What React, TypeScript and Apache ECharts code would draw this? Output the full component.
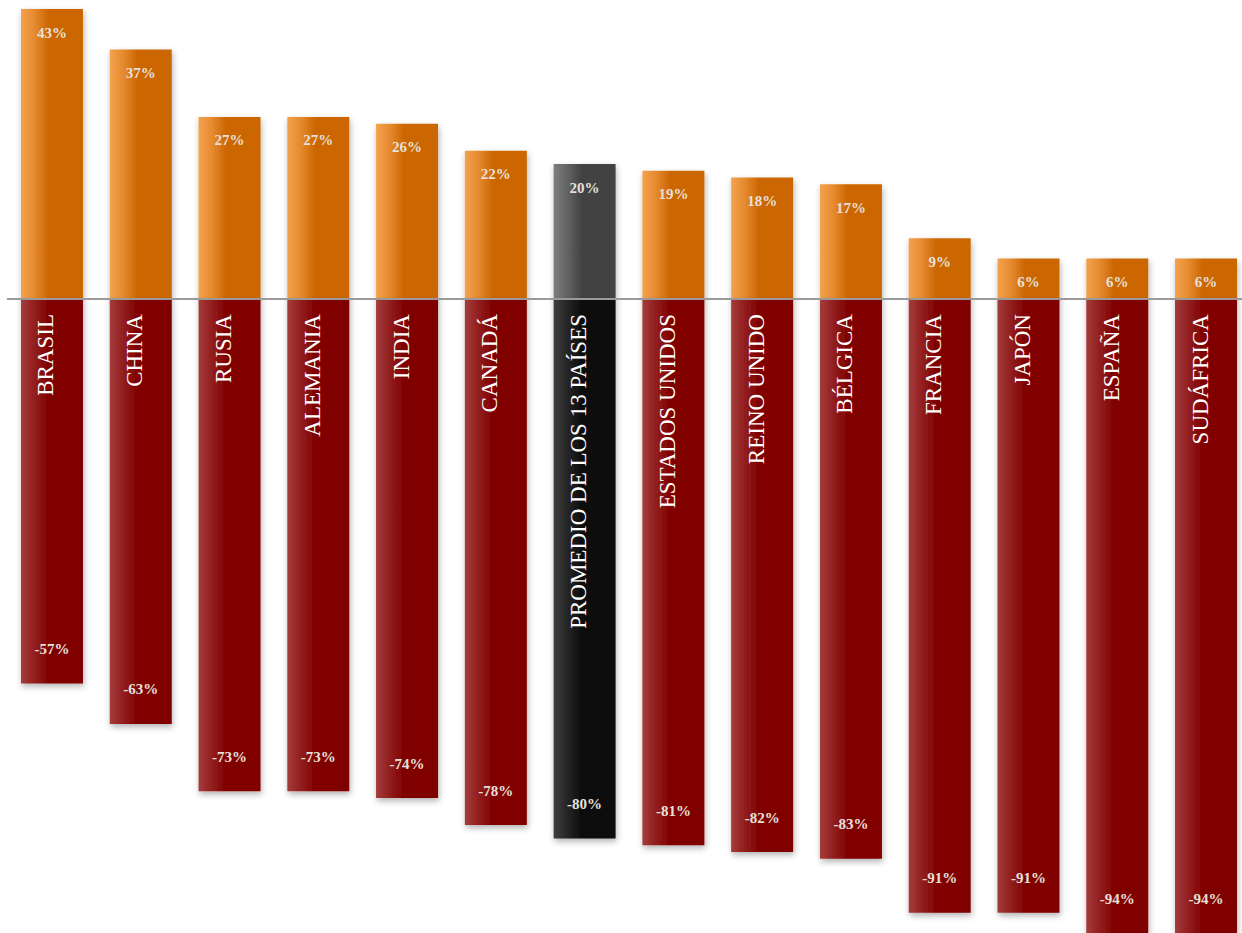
import React, { useEffect, useRef } from "react";
import * as echarts from "echarts";

const categories = [
  "BRASIL",
  "CHINA",
  "RUSIA",
  "ALEMANIA",
  "INDIA",
  "CANADÁ",
  "PROMEDIO DE LOS 13 PAÍSES",
  "ESTADOS UNIDOS",
  "REINO UNIDO",
  "BÉLGICA",
  "FRANCIA",
  "JAPÓN",
  "ESPAÑA",
  "SUDÁFRICA",
];
const positiveValues = [43, 37, 27, 27, 26, 22, 20, 19, 18, 17, 9, 6, 6, 6];
const negativeValues = [-57, -63, -73, -73, -74, -78, -80, -81, -82, -83, -91, -91, -94, -94];
const highlightIndex = 6;

const grad = (a: string, m: string, b: string) =>
  new echarts.graphic.LinearGradient(0, 0, 1, 0, [
    { offset: 0, color: a },
    { offset: 0.22, color: m },
    { offset: 0.45, color: b },
    { offset: 1, color: b },
  ]);

export default function App() {
  const ref = useRef<HTMLDivElement>(null);
  useEffect(() => {
    if (!ref.current) return;
    const chart = echarts.init(ref.current, undefined, { renderer: "svg" });
    const shadow = {
      shadowBlur: 6,
      shadowOffsetX: 1,
      shadowOffsetY: 3,
      shadowColor: "rgba(0,0,0,0.3)",
    };
    const valueLabel = {
      show: true,
      fontFamily: "Liberation Serif",
      fontWeight: "bold" as const,
      fontSize: 15,
      color: "#e6e0da",
      formatter: (p: any) => `${p.value}%`,
    };
    chart.setOption({
      animation: false,
      grid: {
        left: 7.6,
        width: 1242.8,
        top: 9,
        bottom: 0,
        containLabel: false,
        outerBoundsMode: "none",
      },
      xAxis: {
        type: "category",
        data: categories,
        z: 10,
        axisLine: { onZero: true, lineStyle: { color: "#9a9a9a", width: 2 } },
        axisTick: { show: false },
        axisLabel: { show: false },
      },
      yAxis: {
        type: "value",
        min: -94,
        max: 43,
        show: false,
        splitLine: { show: false },
      },
      series: [
        {
          type: "bar",
          barWidth: 62,
          barGap: "-100%",
          data: positiveValues.map((v, i) => ({
            value: v,
            itemStyle: {
              color:
                i === highlightIndex
                  ? grad("#7e7e7e", "#636363", "#434343")
                  : grad("#f4a24e", "#e58a30", "#cc6600"),
              ...shadow,
            },
          })),
          label: { ...valueLabel, position: "insideTop", distance: 16 },
        },
        {
          type: "bar",
          barWidth: 62,
          barGap: "-100%",
          data: negativeValues.map((v, i) => ({
            value: v,
            itemStyle: {
              color:
                i === highlightIndex
                  ? grad("#3e3e3e", "#262626", "#0d0d0d")
                  : grad("#a43c3c", "#921e1e", "#800000"),
              ...shadow,
            },
          })),
          label: { ...valueLabel, position: "insideBottom", distance: 27 },
        },
        {
          type: "bar",
          barWidth: 62,
          barGap: "-100%",
          z: 5,
          silent: true,
          data: negativeValues,
          itemStyle: { color: "rgba(0,0,0,0)" },
          label: {
            show: true,
            position: ["50%", 15],
            offset: [0, -6],
            rotate: 90,
            align: "right",
            verticalAlign: "middle",
            color: "#ffffff",
            fontFamily: "Liberation Serif",
            fontSize: 23,
            formatter: (p: any) => categories[p.dataIndex],
          },
        },
      ],
    });
    return () => chart.dispose();
  }, []);
  return (
    <div
      ref={ref}
      style={{ position: "absolute", left: 0, top: 0, width: 1242, height: 933 }}
    />
  );
}
